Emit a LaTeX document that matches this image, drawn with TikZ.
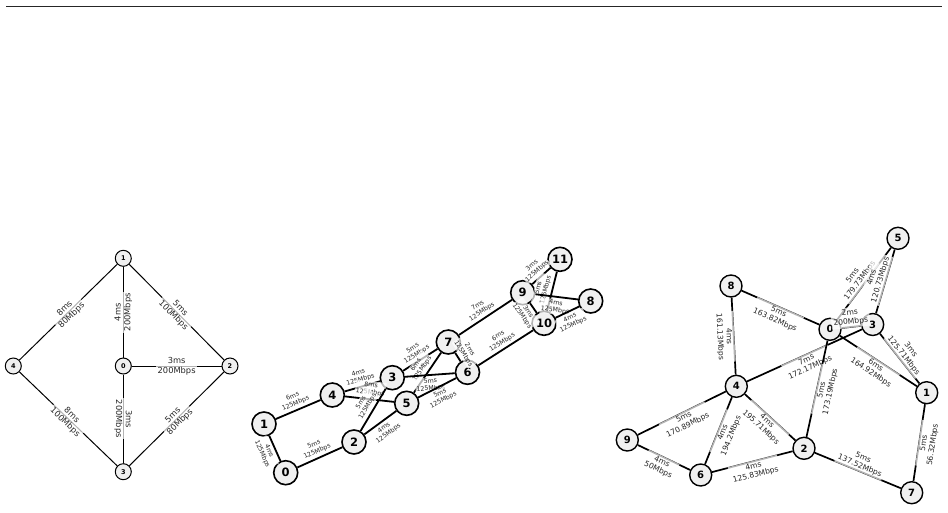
\documentclass[tikz,border=0pt]{standalone}
\usepackage{fontspec}
\setmainfont{DejaVu Sans}
\definecolor{nodefill}{HTML}{F0F0F0}
\tikzset{
    vertex/.style={circle, draw=black, fill=nodefill, inner sep=0pt},
    vsmall/.style={vertex, minimum size=16pt, line width=1pt, font=\fontsize{6.5}{7}\selectfont\bfseries},
    vmid/.style={vertex, minimum size=24pt, line width=1.6pt, font=\fontsize{11.5}{12}\selectfont\bfseries},
    vlarge/.style={vertex, minimum size=22pt, line width=1.4pt, font=\fontsize{10}{11}\selectfont\bfseries},
    elbl/.style={sloped, fill=white, fill opacity=0.7, text opacity=1, text=black!85, align=center, inner sep=1.5pt},
    lblA/.style={elbl, midway, font=\fontsize{8.3}{9.7}\selectfont},
    lblB/.style={elbl, midway, inner sep=1pt, font=\fontsize{6.3}{7.5}\selectfont},
    lblC/.style={elbl, midway, inner sep=2pt, font=\fontsize{7.6}{9}\selectfont},
    bup/.style={lblB, above=1.5pt},
    bdn/.style={lblB, below=1.5pt},
    cup/.style={lblC, above=-1.5pt},
    cdn/.style={lblC, below=-1.5pt},
}
\begin{document}
\begin{tikzpicture}[x=1pt, y=-1pt]
        \useasboundingbox (0,0) rectangle (948,512);
        \draw[line width=0.8pt, black!85] (6,6.5) -- (942,6.5);

        \node[vsmall] (a1) at (123.3,258.3) {1};
        \node[vsmall] (a4) at (13.3,366) {4};
        \node[vsmall] (a0) at (123.3,366) {0};
        \node[vsmall] (a2) at (230,366) {2};
        \node[vsmall] (a3) at (123.3,471.7) {3};

        \draw[line width=1pt] (a4) -- node[lblA] {8ms\\80Mbps} (a1);
        \draw[line width=1pt] (a0) -- node[lblA] {4ms\\200Mbps} (a1);
        \draw[line width=1pt] (a1) -- node[lblA] {5ms\\100Mbps} (a2);
        \draw[line width=1pt] (a0) -- node[lblA] {3ms\\200Mbps} (a2);
        \draw[line width=1pt] (a4) -- node[lblA] {8ms\\100Mbps} (a3);
        \draw[line width=1pt] (a0) -- node[lblA] {3ms\\200Mbps} (a3);
        \draw[line width=1pt] (a3) -- node[lblA] {5ms\\80Mbps} (a2);

        \node[vmid] (b1) at (264,424) {1};
        \node[vmid] (b0) at (285.7,472.7) {0};
        \node[vmid] (b4) at (332.3,395) {4};
        \node[vmid] (b2) at (354,442) {2};
        \node[vmid] (b3) at (392.3,377.7) {3};
        \node[vmid] (b5) at (406.7,403.3) {5};
        \node[vmid] (b7) at (448.3,342) {7};
        \node[vmid] (b6) at (467.5,372.3) {6};
        \node[vmid] (b9) at (522.7,292.7) {9};
        \node[vmid] (b10) at (544,323.3) {10};
        \node[vmid] (b11) at (560,259.3) {11};
        \node[vmid] (b8) at (590.7,301) {8};

        \draw[line width=1.8pt] (b1) -- node[bup] {6ms\\125Mbps} (b4);
        \draw[line width=1.8pt] (b1) -- node[bdn] {4ms\\125Mbps} (b0);
        \draw[line width=1.8pt] (b0) -- node[bup] {5ms\\125Mbps} (b2);
        \draw[line width=1.8pt] (b4) -- node[bup] {4ms\\125Mbps} (b3);
        \draw[line width=1.8pt] (b4) -- node[bup] {8ms\\125Mbps} (b5);
        \draw[line width=1.8pt] (b2) -- node[bup] {5ms\\125Mbps} (b3);
        \draw[line width=1.8pt] (b2) -- node[bdn] {4ms\\125Mbps} (b5);
        \draw[line width=1.8pt] (b3) -- node[bup] {5ms\\125Mbps} (b7);
        \draw[line width=1.8pt] (b5) -- node[bup] {6ms\\125Mbps} (b7);
        \draw[line width=1.8pt] (b3) -- node[bdn] {5ms\\125Mbps} (b6);
        \draw[line width=1.8pt] (b5) -- node[bdn] {5ms\\125Mbps} (b6);
        \draw[line width=1.8pt] (b7) -- node[bup] {2ms\\125Mbps} (b6);
        \draw[line width=1.8pt] (b7) -- node[bup] {7ms\\125Mbps} (b9);
        \draw[line width=1.8pt] (b6) -- node[bup] {6ms\\125Mbps} (b10);
        \draw[line width=1.8pt] (b9) -- node[bup] {3ms\\125Mbps} (b11);
        \draw[line width=1.8pt] (b10) -- node[bup] {5ms\\125Mbps} (b11);
        \draw[line width=1.8pt] (b9) -- node[bdn] {3ms\\125Mbps} (b10);
        \draw[line width=1.8pt] (b9) -- node[bdn] {4ms\\125Mbps} (b8);
        \draw[line width=1.8pt] (b10) -- node[bdn] {4ms\\125Mbps} (b8);

        \node[vlarge] (c5) at (898,238.3) {5};
        \node[vlarge] (c8) at (731,286) {8};
        \node[vlarge] (c0) at (830,329.3) {0};
        \node[vlarge] (c3) at (872.7,324.5) {3};
        \node[vlarge] (c4) at (736.3,386.3) {4};
        \node[vlarge] (c1) at (926.7,392.7) {1};
        \node[vlarge] (c9) at (627.3,440) {9};
        \node[vlarge] (c2) at (804,448.3) {2};
        \node[vlarge] (c6) at (700.7,475) {6};
        \node[vlarge] (c7) at (911.7,492.7) {7};

        \draw[line width=1.7pt] (c8) -- node[cdn] {5ms\\163.82Mbps} (c0);
        \draw[line width=1.7pt] (c8) -- node[cdn] {4ms\\161.13Mbps} (c4);
        \draw[line width=1.7pt] (c0) -- node[cup] {5ms\\179.73Mbps} (c5);
        \draw[line width=1.7pt] (c3) -- node[cup] {4ms\\120.73Mbps} (c5);
        \draw[line width=1.7pt] (c0) -- node[cup] {2ms\\200Mbps} (c3);
        \draw[line width=1.7pt] (c4) -- node[cdn] {7ms\\172.17Mbps} (c3);
        \draw[line width=1.7pt] (c0) -- node[cdn] {6ms\\164.92Mbps} (c1);
        \draw[line width=1.7pt] (c3) -- node[cup] {3ms\\125.71Mbps} (c1);
        \draw[line width=1.7pt] (c2) -- node[cdn] {5ms\\173.19Mbps} (c0);
        \draw[line width=1.7pt] (c9) -- node[cdn] {5ms\\170.89Mbps} (c4);
        \draw[line width=1.7pt] (c6) -- node[cdn] {4ms\\194.2Mbps} (c4);
        \draw[line width=1.7pt] (c4) -- node[cdn] {4ms\\195.71Mbps} (c2);
        \draw[line width=1.7pt] (c9) -- node[cdn] {4ms\\50Mbps} (c6);
        \draw[line width=1.7pt] (c6) -- node[cdn] {4ms\\125.83Mbps} (c2);
        \draw[line width=1.7pt] (c2) -- node[cup] {5ms\\137.52Mbps} (c7);
        \draw[line width=1.7pt] (c7) -- node[cdn] {5ms\\56.32Mbps} (c1);
    \end{tikzpicture}
\end{document}
